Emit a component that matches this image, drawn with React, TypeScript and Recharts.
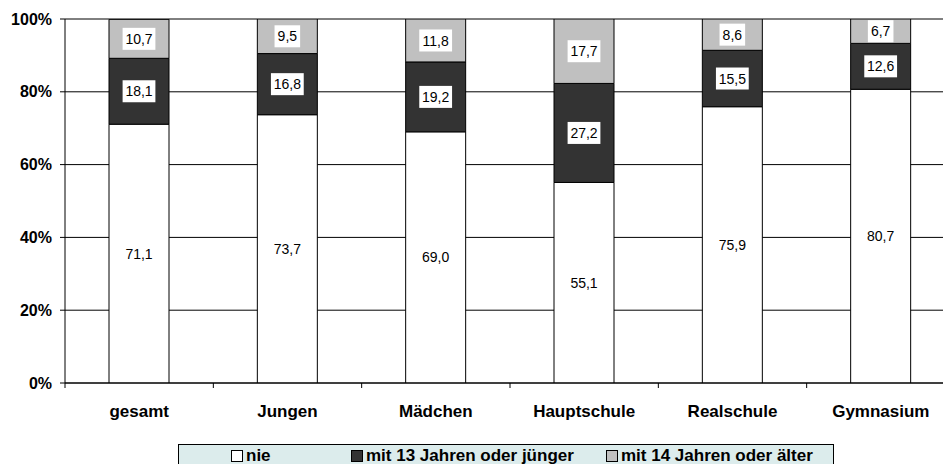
import React from "react";
import { BarChart, Bar, XAxis, YAxis, CartesianGrid, LabelList } from "recharts";

const categories = ["gesamt", "Jungen", "Mädchen", "Hauptschule", "Realschule", "Gymnasium"];
const nie = [71.1, 73.7, 69.0, 55.1, 75.9, 80.7];
const mit13 = [18.1, 16.8, 19.2, 27.2, 15.5, 12.6];
const mit14 = [10.7, 9.5, 11.8, 17.7, 8.6, 6.7];
const yTicks = [0, 20, 40, 60, 80, 100];

const seriesNames = ["nie", "mit 13 Jahren oder jünger", "mit 14 Jahren oder älter"];
const seriesColors = ["#ffffff", "#333333", "#c0c0c0"];

const data = categories.map((c, i) => ({ name: c, nie: nie[i], mit13: mit13[i], mit14: mit14[i] }));

const FONT = "Arial, 'Liberation Sans', sans-serif";
const W = 1000;
const H = 464;
const M = { top: 19, right: 45, bottom: 41, left: 0 };
const Y_W = 65;
const X_H = 40;
const X_MARGIN = 22;
const BAND = (W - M.left - M.right - Y_W) / categories.length;

const fmt = (v: number) => v.toFixed(1).replace(".", ",");

// eslint-disable-next-line @typescript-eslint/no-explicit-any
const XTick = ({ x, y, payload, index }: any) => {
  const axisY = y - X_MARGIN;
  return (
    <g>
      {index === 0 && <line x1={x - BAND / 2} x2={x - BAND / 2} y1={axisY} y2={axisY + 5} stroke="#000" />}
      <line x1={x + BAND / 2} x2={x + BAND / 2} y1={axisY} y2={axisY + 5} stroke="#000" />
      <text x={x} y={y} dy="0.71em" textAnchor="middle" fontSize={17} fontWeight="bold" fill="#000" fontFamily={FONT}>
        {payload.value}
      </text>
    </g>
  );
};

// eslint-disable-next-line @typescript-eslint/no-explicit-any
const PlainLabel = ({ x, y, width, height, value }: any) => (
  <text x={x + width / 2} y={y + height / 2} dy="0.36em" textAnchor="middle" fontSize={14} fill="#000" fontFamily={FONT}>
    {fmt(value)}
  </text>
);

// eslint-disable-next-line @typescript-eslint/no-explicit-any
const BoxLabel = ({ x, y, width, height, value }: any) => {
  const t = fmt(value);
  const bw = t.length * 7.2 + 4;
  const bh = 22;
  const cx = x + width / 2;
  const cy = y + height / 2;
  return (
    <g>
      <rect x={cx - bw / 2} y={cy - bh / 2} width={bw} height={bh} fill="#fff" />
      <text x={cx} y={cy} dy="0.36em" textAnchor="middle" fontSize={14} fill="#000" fontFamily={FONT}>
        {t}
      </text>
    </g>
  );
};

const legendOffsets = [52, 172, 427];

export default function App() {
  return (
    <div style={{ position: "fixed", left: 0, top: 0, width: 943, height: 464, overflow: "hidden", background: "#fff" }}>
      <BarChart width={W} height={H} data={data} margin={M} barSize={60}>
        <CartesianGrid horizontal vertical={false} stroke="#000" />
        <XAxis
          dataKey="name"
          interval={0}
          height={X_H}
          tickSize={0}
          tickMargin={X_MARGIN}
          axisLine={{ stroke: "#000" }}
          tickLine={false}
          tick={<XTick />}
        />
        <YAxis
          domain={[0, 100]}
          ticks={yTicks}
          width={Y_W}
          tickSize={5}
          tickMargin={8}
          tickFormatter={(v: number) => v + "%"}
          axisLine={{ stroke: "#000" }}
          tickLine={{ stroke: "#000" }}
          tick={{ fill: "#000", fontSize: 16, fontWeight: "bold", fontFamily: FONT }}
          allowDataOverflow
        />
        <Bar dataKey="nie" stackId="a" fill={seriesColors[0]} stroke="#000" isAnimationActive={false}>
          <LabelList dataKey="nie" content={<PlainLabel />} />
        </Bar>
        <Bar dataKey="mit13" stackId="a" fill={seriesColors[1]} stroke="#000" isAnimationActive={false}>
          <LabelList dataKey="mit13" content={<BoxLabel />} />
        </Bar>
        <Bar dataKey="mit14" stackId="a" fill={seriesColors[2]} stroke="#000" isAnimationActive={false}>
          <LabelList dataKey="mit14" content={<BoxLabel />} />
        </Bar>
      </BarChart>
      <div
        style={{
          position: "absolute",
          left: 178,
          top: 444,
          width: 654,
          height: 40,
          background: "#dcecec",
          border: "1px solid #000",
          fontFamily: FONT,
          fontSize: 17,
          fontWeight: "bold",
        }}
      >
        {seriesNames.map((n, i) => (
          <div
            key={n}
            style={{ position: "absolute", left: legendOffsets[i], top: 1, lineHeight: "19px", display: "flex", alignItems: "center", whiteSpace: "nowrap" }}
          >
            <span
              style={{ display: "inline-block", width: 10, height: 10, border: "1px solid #000", background: seriesColors[i], marginRight: 3 }}
            />
            {n}
          </div>
        ))}
      </div>
    </div>
  );
}
